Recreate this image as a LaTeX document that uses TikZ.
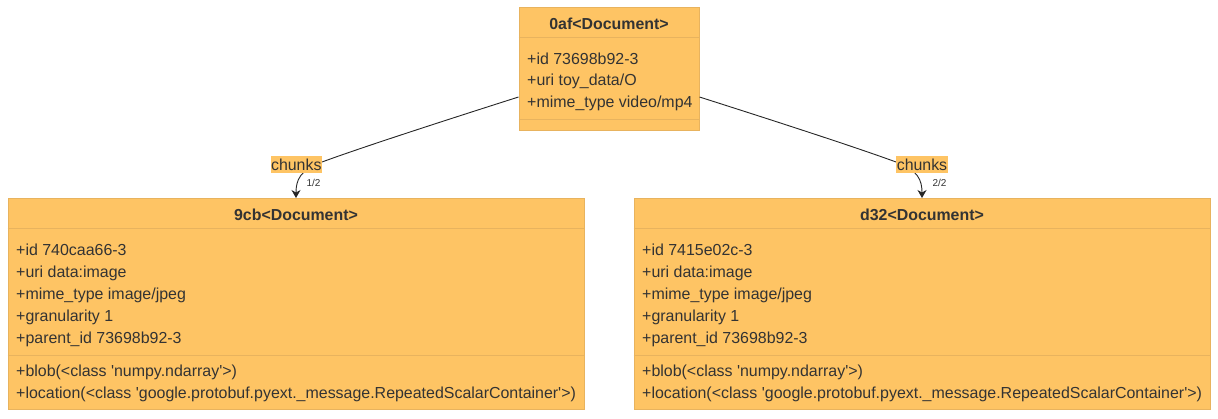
\documentclass[tikz,border=0pt]{standalone}
\usepackage{fontspec}
\setmainfont{Liberation Sans}
\usetikzlibrary{arrows.meta}
\definecolor{boxfill}{HTML}{FEC464}
\definecolor{boxline}{HTML}{E8B35E}
\definecolor{txt}{HTML}{333333}
\newcommand{\sq}{\textquotesingle}
\tikzset{
  classbox/.style={draw=boxline, fill=boxfill, line width=1pt, inner sep=0pt, rectangle},
  sepline/.style={draw=boxline, line width=1pt},
  attr/.style={anchor=base west, inner sep=0pt, text=txt, font=\fontsize{15.95}{19}\selectfont},
  head/.style={anchor=base, inner sep=0pt, text=txt, font=\fontsize{15.9}{19}\selectfont\bfseries},
  edgelabel/.style={fill=boxfill, anchor=base, inner xsep=0.6pt, inner ysep=0pt, text height=14.5pt, text depth=2.7pt, text=txt, font=\fontsize{15.9}{19}\selectfont},
  mult/.style={anchor=base west, inner sep=0pt, text=txt, font=\fontsize{10}{12}\selectfont},
  conn/.style={draw=black!85, line width=0.9pt, -{Stealth[length=8pt,width=9pt,inset=2.5pt]}},
}
\begin{document}
\begin{tikzpicture}[x=1pt,y=-1pt]
\useasboundingbox (0,0) rectangle (1218,418);
% top box
\node[classbox, minimum width=180pt, minimum height=123.2pt] (topbox) at (609,69.1) {};
\draw[sepline] ([yshift=-30.8pt]topbox.north west) -- ([yshift=-30.8pt]topbox.north east);
\draw[sepline] ([yshift=11.4pt]topbox.south west) -- ([yshift=11.4pt]topbox.south east);
\node[head] (tophead) at (609,29.3) {0af<Document>};
\node[attr] (ta1) at (527,64) {+id 73698b92-3};
\node[attr] (ta2) at (527,85.6) {+uri toy\_data/O};
\node[attr] (ta3) at (527,107.2) {+mime\_type video/mp4};
% left box
\node[classbox, minimum width=576pt, minimum height=211pt] (leftbox) at (296,304) {};
\draw[sepline] ([yshift=-30.5pt]leftbox.north west) -- ([yshift=-30.5pt]leftbox.north east);
\draw[sepline] ([yshift=55pt]leftbox.south west) -- ([yshift=55pt]leftbox.south east);
\node[head] (lefthead) at (296,220.3) {9cb<Document>};
\node[attr] (la1) at (16,255) {+id 740caa66-3};
\node[attr] (la2) at (16,277) {+uri data:image};
\node[attr] (la3) at (16,299) {+mime\_type image/jpeg};
\node[attr] (la4) at (16,321) {+granularity 1};
\node[attr] (la5) at (16,343) {+parent\_id 73698b92-3};
\node[attr] (lm1) at (16,376.6) {+blob(<class \sq numpy.ndarray\sq>)};
\node[attr] (lm2) at (16,398.4) {+location(<class \sq google.protobuf.pyext.\_message.RepeatedScalarContainer\sq>)};
% right box
\node[classbox, minimum width=576pt, minimum height=211pt] (rightbox) at (922,304) {};
\draw[sepline] ([yshift=-30.5pt]rightbox.north west) -- ([yshift=-30.5pt]rightbox.north east);
\draw[sepline] ([yshift=55pt]rightbox.south west) -- ([yshift=55pt]rightbox.south east);
\node[head] (righthead) at (922,220.3) {d32<Document>};
\node[attr] (ra1) at (642,255) {+id 7415e02c-3};
\node[attr] (ra2) at (642,277) {+uri data:image};
\node[attr] (ra3) at (642,299) {+mime\_type image/jpeg};
\node[attr] (ra4) at (642,321) {+granularity 1};
\node[attr] (ra5) at (642,343) {+parent\_id 73698b92-3};
\node[attr] (rm1) at (642,376.6) {+blob(<class \sq numpy.ndarray\sq>)};
\node[attr] (rm2) at (642,398.4) {+location(<class \sq google.protobuf.pyext.\_message.RepeatedScalarContainer\sq>)};
% connectors
\draw[conn] ([yshift=-27.9pt]topbox.west) .. controls (440,122) and (360,148) .. (322,162)
   .. controls (300,170) and (296,180) .. (leftbox.north);
\draw[conn] ([yshift=-27.9pt]topbox.east) .. controls (778,122) and (858,148) .. (896,162)
   .. controls (918,170) and (922,180) .. (rightbox.north);
% labels
\node[edgelabel] (lab1) at (296.3,170) {chunks};
\node[edgelabel] (lab2) at (922,170) {chunks};
\node[mult] (m1) at (306.3,186.6) {1/2};
\node[mult] (m2) at (932.3,186.6) {2/2};
\end{tikzpicture}
\end{document}
